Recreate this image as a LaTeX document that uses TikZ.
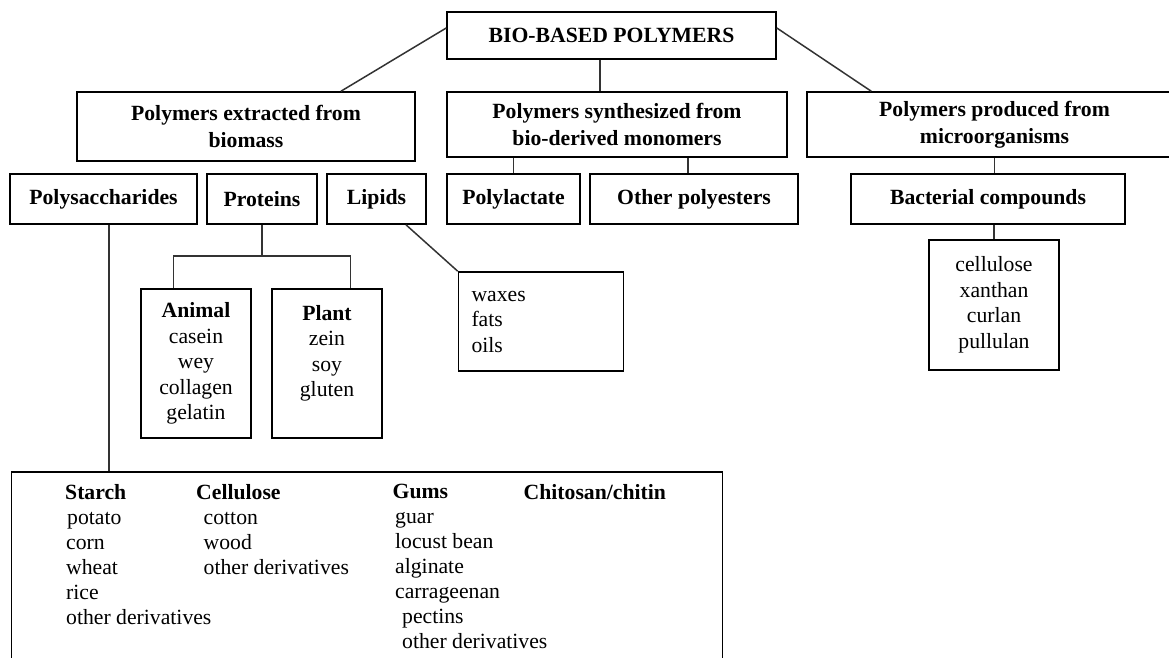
\documentclass[tikz,border=0pt]{standalone}
\usepackage{fontspec}
\setmainfont{Liberation Serif}
\usetikzlibrary{calc}

\begin{document}
\begin{tikzpicture}[x=1pt,y=-1pt,
  bx/.style={draw,line width=1.6pt,inner sep=0pt,align=center,font=\fontsize{21.7}{27}\selectfont\bfseries},
  ls/.style={draw,line width=1.6pt,inner sep=0pt,align=center,font=\fontsize{21.7}{25.5}\selectfont},
  col/.style={inner sep=0pt,align=left,anchor=north west,font=\fontsize{21.7}{25}\selectfont},
  ln/.style={line width=1.5pt,black!80}]
  \clip (0,0) rectangle (1169,657);
  \node[bx,minimum width=329,minimum height=47] (bio) at (611.5,35.5) {BIO-BASED POLYMERS};
  \node[bx,minimum width=338,minimum height=69] (ext) at (246,126.5) {Polymers extracted from\\biomass};
  \node[bx,minimum width=340,minimum height=65] (syn) at (617,124.5) {Polymers synthesized from\\bio-derived monomers};
  \node[bx,minimum width=375,minimum height=65] (pro) at (994.5,124.5) {Polymers produced from\\microorganisms};
  \node[bx,minimum width=187,minimum height=50] (psa) at (103.5,199) {Polysaccharides};
  \node[bx,minimum width=110,minimum height=50] (prt) at (262,199) {Proteins};
  \node[bx,minimum width=99,minimum height=50] (lip) at (376.5,199) {Lipids};
  \node[bx,minimum width=133,minimum height=50] (pla) at (513.5,199) {Polylactate};
  \node[bx,minimum width=208,minimum height=50] (ope) at (694,199) {Other polyesters};
  \node[bx,minimum width=274,minimum height=50] (bac) at (988,199) {Bacterial compounds};
  \node[ls,minimum width=110,minimum height=149] (anm) at (196,363.5) {\textbf{Animal}\\casein\\wey\\collagen\\gelatin};
  \node[ls,minimum width=110,minimum height=149] (plt) at (327,363.5) {\textbf{Plant}\\zein\\soy\\gluten\\\mbox{}};
  \node[ls,align=left,inner xsep=13pt,text width=139pt,minimum height=99] (wax) at (541,321.5) {waxes\\fats\\oils};
  \node[ls,minimum width=130,minimum height=130] (mic) at (994,305) {cellulose\\xanthan\\curlan\\pullulan};
  % polysaccharide sorts
  \node[draw,line width=1.6pt,inner sep=0pt,anchor=north west,minimum width=711,minimum height=240] (sb) at (10.7,471) {};
  \node[col] (sta) at (65,484) {\textbf{Starch}\\\hspace{2pt}potato\\\hspace{1pt}corn\\\hspace{1pt}wheat\\\hspace{1pt}rice\\\hspace{1pt}other derivatives};
  \node[col] (cel) at (196,484) {\textbf{Cellulose}\\\hspace{7.5pt}cotton\\\hspace{7.5pt}wood\\\hspace{7.5pt}other derivatives};
  \node[col] (gum) at (392.5,484) {\textbf{Gums}\\\hspace{2.5pt}guar\\\hspace{2.5pt}locust bean\\\hspace{2.5pt}alginate\\\hspace{2.5pt}carrageenan\\\hspace{9.5pt}pectins\\\hspace{9.5pt}other derivatives};
  \node[col] (chi) at (523.5,484) {\textbf{Chitosan/chitin}};
  % connectors
  \draw[ln] ($(bio.west)+(0,-7.5)$) -- ($(ext.north)+(95,0)$);
  \draw[ln] ($(bio.east)+(0,-7.5)$) -- ($(pro.north west)+(65,0)$);
  \draw[ln] ($(bio.south)+(-11.5,0)$) coordinate (b1) -- (b1 |- syn.north);
  \draw[ln] (pla.north |- syn.south) -- (pla.north);
  \draw[ln] ($(ope.north)+(-6,0)$) coordinate (o1) -- (o1 |- syn.south);
  \draw[ln] (pro.south) -- (pro.south |- bac.north);
  \draw[ln] (mic.north |- bac.south) -- (mic.north);
  \draw[ln] ($(psa.south)+(5.5,0)$) coordinate (p1) -- (p1 |- sb.north);
  \draw[ln] (prt.south) -- ++(0,31) coordinate (pj);
  \draw[ln] ($(anm.north west)+(33.5,0)$) |- (pj) -| ($(plt.north east)+(-32.5,0)$);
  \draw[ln] ($(lip.south)+(29.5,0)$) -- (wax.north west);
\end{tikzpicture}
\end{document}
